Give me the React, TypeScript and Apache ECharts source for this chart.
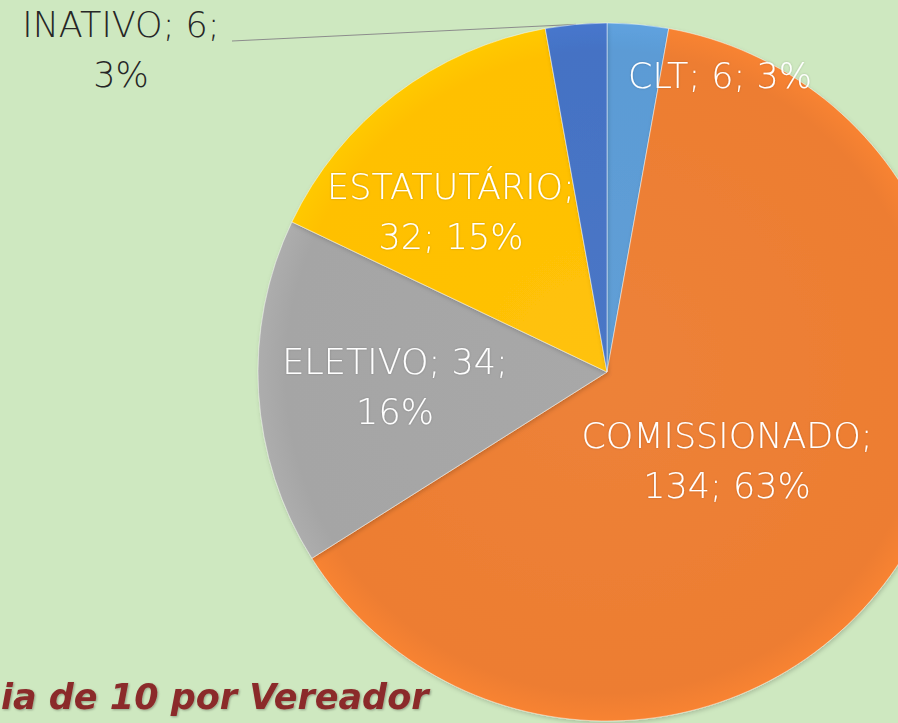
import React, { useEffect, useRef } from "react";
import * as echarts from "echarts";

const categories = ["CLT", "COMISSIONADO", "ELETIVO", "ESTATUTÁRIO", "INATIVO"];
const values = [6, 134, 34, 32, 6];
const footnote = "ia de 10 por Vereador";

// presentation (not data)
const sliceColors = ["#5B9BD5", "#ED7D31", "#A5A5A5", "#FFC000", "#4472C4"];
const labelFormats: Record<string, string> = {
  CLT: "{b}; {c}; {d}%",
  COMISSIONADO: "{b};\n{c}; {d}%",
  ELETIVO: "{b}; {c};\n{d}%",
  "ESTATUTÁRIO": "{b};\n{c}; {d}%",
  INATIVO: "{b}; {c};\n{d}%",
};
const labelCenters: Record<string, [number, number]> = {
  CLT: [720, 76],
  COMISSIONADO: [727, 461],
  ELETIVO: [395, 387],
  "ESTATUTÁRIO": [451, 212],
  INATIVO: [121, 50],
};

export default function App() {
  const ref = useRef<HTMLDivElement>(null);
  useEffect(() => {
    if (!ref.current) return;
    const chart = echarts.init(ref.current, undefined, { renderer: "svg" });
    const cx = 607;
    const cy = 372;
    const R = 349;
    const data = categories.map((name, i) => {
      const outside = name === "INATIVO";
      const base = sliceColors[i];
      return {
        name,
        value: values[i],
        itemStyle: {
          color: {
            type: "radial",
            x: cx,
            y: cy,
            r: R,
            global: true,
            colorStops: [
              { offset: 0, color: echarts.color.lift(base, 0.04) },
              { offset: 0.92, color: base },
              { offset: 1, color: echarts.color.lift(base, -0.05) },
            ],
          },
        },
        label: {
          position: outside ? "outside" : "inside",
          formatter: labelFormats[name],
          color: outside ? "#262626" : "#ffffff",
          textShadowColor: outside ? "transparent" : "rgba(0,0,0,0.2)",
          textShadowBlur: outside ? 0 : 2,
        },
        labelLine: {
          show: outside,
          length: 20,
          length2: 20,
          lineStyle: { color: "#8c8c8c", width: 1 },
        },
      };
    });
    chart.setOption({
      animation: false,
      backgroundColor: "#CEE8C0",
      series: [
        {
          type: "pie",
          center: [cx, cy],
          radius: R,
          startAngle: 90,
          clockwise: true,
          percentPrecision: 0,
          avoidLabelOverlap: false,
          itemStyle: {
            borderColor: "rgba(255,255,255,0.45)",
            borderWidth: 1,
            shadowColor: "rgba(0,0,0,0.18)",
            shadowBlur: 4,
            shadowOffsetX: 1,
            shadowOffsetY: 2,
          },
          label: {
            show: true,
            fontFamily: "DejaVu Sans",
            fontWeight: 200,
            fontSize: 35,
            lineHeight: 50,
            align: "center",
          },
          labelLayout: (params: any) => {
            const name = categories[params.dataIndex];
            const [x, y] = labelCenters[name];
            const out: any = { x, y, align: "center", verticalAlign: "middle" };
            if (name === "INATIVO" && params.labelLinePoints) {
              const p0 = params.labelLinePoints[0];
              const end = [232, 41];
              out.labelLinePoints = [p0, [(p0[0] + end[0]) / 2, (p0[1] + end[1]) / 2], end];
            }
            return out;
          },
          data,
        },
      ],
      graphic: [
        {
          type: "text",
          left: 1,
          top: 679,
          style: {
            text: footnote,
            fontFamily: "DejaVu Sans",
            fontStyle: "italic",
            fontWeight: "bold",
            fontSize: 35,
            fill: "#8B2A2A",
            textShadowColor: "rgba(0,0,0,0.3)",
            textShadowBlur: 2,
            textShadowOffsetX: 1,
            textShadowOffsetY: 1,
          },
        },
      ],
    });
    return () => chart.dispose();
  }, []);
  return (
    <div
      ref={ref}
      style={{ position: "absolute", left: 0, top: 0, width: 898, height: 723, background: "#CEE8C0" }}
    />
  );
}
